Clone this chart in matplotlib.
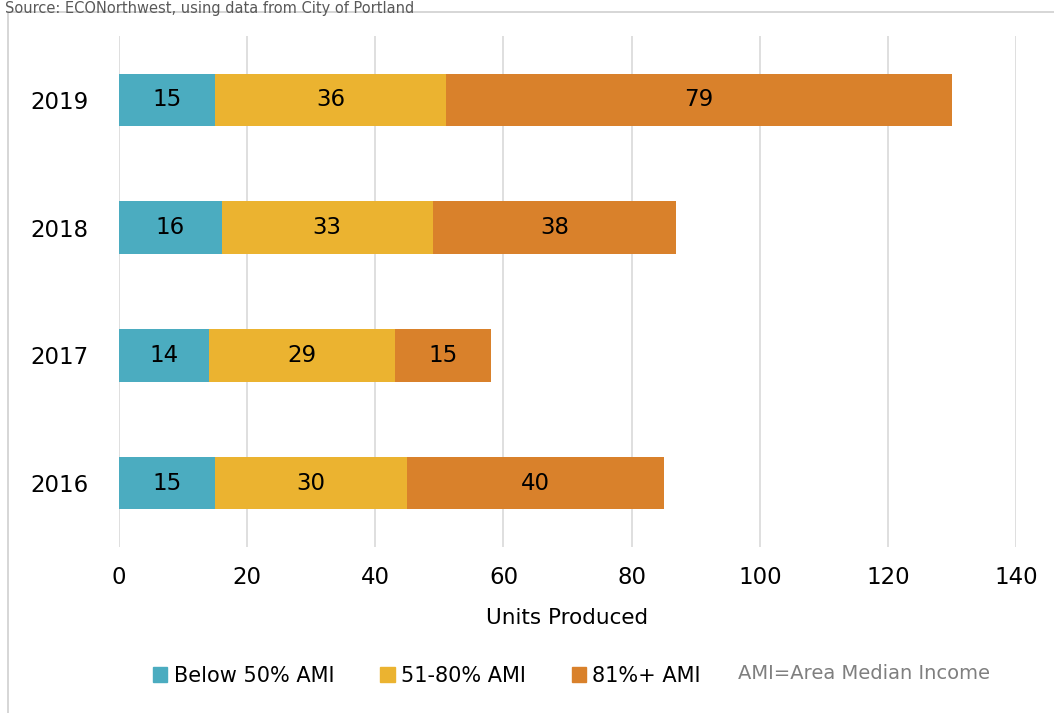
import numpy as np
import matplotlib.pyplot as plt
from matplotlib.patches import Rectangle, Patch

years = ["2016", "2017", "2018", "2019"]
below50 = [15, 14, 16, 15]
mid51_80 = [30, 29, 33, 36]
above81 = [40, 15, 38, 79]
series_names = ["Below 50% AMI", "51-80% AMI", "81%+ AMI"]
colors = ["#4BACC0", "#EBB330", "#D9812B"]

plt.rcParams['font.family'] = ['DejaVu Sans']

fig = plt.figure(figsize=(10.54, 7.13), dpi=100)
ax = fig.add_axes([0.1129, 0.2328, 0.8511, 0.7167])

# frame around the chart area
fig.patches.append(Rectangle((8 / 1054, -0.01), 1.02, 1 - 12 / 713 + 0.01,
                             transform=fig.transFigure, fill=False,
                             edgecolor="#D0D0D0", linewidth=1.2))
fig.text(0.005, 0.999, "Source: ECONorthwest, using data from City of Portland",
         ha="left", va="top", fontsize=10.5, color="#595959")

y = np.arange(len(years))
left = np.zeros(len(years))
for vals, name, col in zip([below50, mid51_80, above81], series_names, colors):
    vals = np.array(vals)
    bars = ax.barh(y, vals, left=left, height=0.41, color=col, label=name, zorder=3)
    for b, v in zip(bars, vals):
        ax.text(b.get_x() + b.get_width() / 2, b.get_y() + b.get_height() / 2,
                str(v), ha="center", va="center", fontsize=16.5, color="black", zorder=4)
    left += vals

ax.set_xlim(0, 140)
ax.set_ylim(-0.5, 3.5)
ax.set_xticks(range(0, 141, 20))
ax.set_yticks(y)
ax.set_yticklabels(years)
ax.tick_params(axis="both", length=0, labelsize=16.5, colors="black")
ax.tick_params(axis="x", pad=14)
ax.tick_params(axis="y", pad=22)
ax.grid(axis="x", color="#D9D9D9", linewidth=1.2, zorder=0)
for s in ax.spines.values():
    s.set_visible(False)
ax.set_xlabel("Units Produced", fontsize=15.5, labelpad=13)

handles = [Patch(color=c) for c in colors]
fig.legend(handles, series_names, loc="center", bbox_to_anchor=(0.405, 0.052),
           ncol=3, frameon=False, fontsize=15, handlelength=0.7, handleheight=0.7,
           handletextpad=0.3, columnspacing=2.2)
fig.text(0.70, 0.055, "AMI=Area Median Income", ha="left", va="center",
         fontsize=14, color="#7F7F7F")

fig.savefig("out.png", dpi=100)
